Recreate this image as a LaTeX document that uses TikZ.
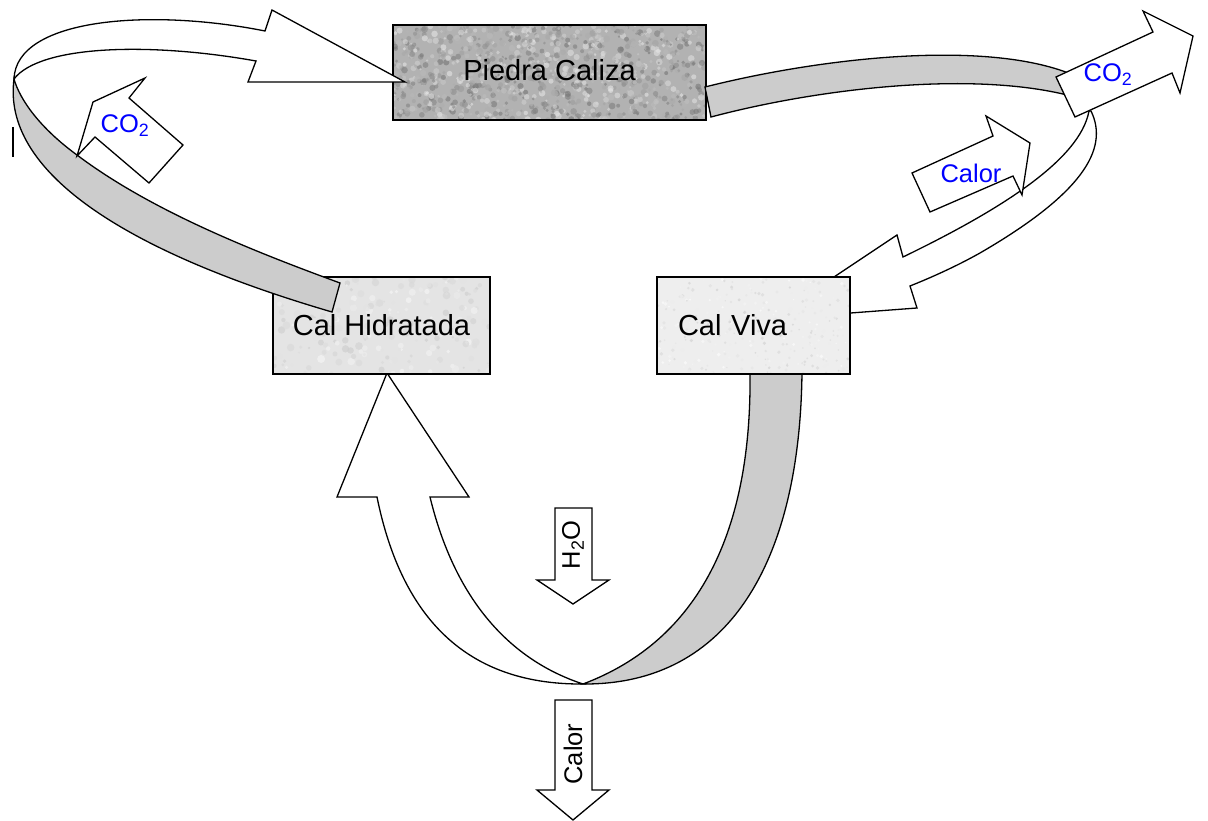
\documentclass[tikz,border=0pt]{standalone}
\usepackage{fontspec}
\setmainfont{Liberation Sans}
\definecolor{bandgray}{RGB}{204,204,204}
\definecolor{lblue}{RGB}{0,0,255}
\definecolor{piedrafill}{RGB}{178,178,178}
\definecolor{hidrfill}{RGB}{228,228,228}
\definecolor{vivafill}{RGB}{238,238,238}
\begin{document}
\begin{tikzpicture}[x=1pt,y=-1pt,
  blockarrow/.style={draw=black, line width=1.3pt, line join=miter, fill=white},
  bandshape/.style={draw=black, line width=1.3pt, line join=miter, fill=bandgray},
  stonebox/.style={draw=black, line width=1.6pt, rectangle, inner sep=0pt, font=\fontsize{29}{34}\selectfont},
  lbl/.style={font=\fontsize{25.5}{30}\selectfont, text=lblue, inner sep=0pt},
  vlbl/.style={font=\fontsize{25.5}{30}\selectfont, inner sep=0pt, rotate=90}]
\useasboundingbox (0,0) rectangle (1208,821);
\pgfmathsetseed{7}

% bottom white curved arrow (to Cal Hidratada)
\draw[blockarrow] (387,373) -- (469,497) -- (430,497)
  .. controls (455,600) and (510,660) .. (583,684)
  .. controls (460,685) and (400,610) .. (377,497) -- (337,497) -- cycle;
% grey band from Cal Viva
\draw[bandshape] (750,372) .. controls (752,530) and (700,640) .. (583,684)
  .. controls (730,685) and (800,560) .. (802,372) -- cycle;
% white curved arrow towards Cal Viva
\draw[blockarrow] (1089,111) .. controls (1080,160) and (1000,210) .. (903,257)
  -- (897,235) -- (771,319) -- (917,308) -- (910,286)
  .. controls (930,278) and (955,267) .. (980,253)
  .. controls (1080,195) and (1110,150) .. (1091,111) -- cycle;

% textures of the boxes
\begin{scope}
  \clip (393,25) rectangle (706,120);
  \fill[piedrafill] (393,25) rectangle (706,120);
  \foreach \i in {1,...,1100}{
    \pgfmathsetmacro\px{393+313*rnd}
    \pgfmathsetmacro\py{25+95*rnd}
    \pgfmathsetmacro\pr{1.2+2.2*rnd}
    \pgfmathtruncatemacro\pg{10+45*rnd}
    \fill[black!\pg, opacity=0.6] (\px,\py) circle[radius=\pr pt];
  }
\end{scope}
\begin{scope}
  \clip (273,277) rectangle (490,374);
  \fill[hidrfill] (273,277) rectangle (490,374);
  \foreach \i in {1,...,250}{
    \pgfmathsetmacro\px{273+217*rnd}
    \pgfmathsetmacro\py{277+97*rnd}
    \pgfmathsetmacro\pr{1+3*rnd}
    \pgfmathtruncatemacro\pg{4+16*rnd}
    \fill[black!\pg, opacity=0.7] (\px,\py) circle[radius=\pr pt];
  }
\end{scope}
\begin{scope}
  \clip (657,277) rectangle (850,374);
  \fill[vivafill] (657,277) rectangle (850,374);
  \foreach \i in {1,...,300}{
    \pgfmathsetmacro\px{657+193*rnd}
    \pgfmathsetmacro\py{277+97*rnd}
    \pgfmathsetmacro\pr{0.6+1.4*rnd}
    \pgfmathtruncatemacro\pg{3+12*rnd}
    \fill[black!\pg] (\px,\py) circle[radius=\pr pt];
  }
\end{scope}

% boxes
\node[stonebox, minimum width=313pt, minimum height=95pt] (piedra) at (549.5,72.5) {\raisebox{5pt}{Piedra Caliza}};
\node[stonebox, minimum width=217pt, minimum height=97pt] (hidr) at (381.5,325.5) {Cal Hidratada};
\node[stonebox, minimum width=193pt, minimum height=97pt, text width=151pt, inner xsep=21pt, align=left] (viva) at (753.5,325.5) {Cal Viva};

% top-left curved arrow (Cal Hidratada -> Piedra Caliza)
\draw[blockarrow] (14,79) .. controls (16,18) and (150,8) .. (265,31)
  -- (272,10) -- (405,82) -- (248,82) -- (256,61)
  .. controls (150,42) and (40,45) .. (14,79) -- cycle;
\draw[bandshape] (14,79) .. controls (2,170) and (120,250) .. (332,312) -- (340,283)
  .. controls (250,250) and (150,210) .. (77,155)
  .. controls (40,128) and (20,100) .. (14,79) -- cycle;
\draw[line width=1.3pt] (13,127) -- (13,157);

% CO2 arrow top-left
\draw[blockarrow] (77,156) -- (93,102) -- (145,78) -- (129,98) -- (183,145) -- (149,183) -- (95,137) -- cycle;
\node[lbl] (co2a) at (125,126) {CO\textsubscript{2}};

% top-right grey band and CO2 arrow
\draw[bandshape] (705,87) .. controls (820,58) and (980,40) .. (1067,72.5)
  -- (1085,100) .. controls (985,68) and (820,88) .. (711,117) -- cycle;
\draw[blockarrow] (1056,77) -- (1153,32) -- (1143,11) -- (1193,36) -- (1180,93) -- (1172,73) -- (1075,117) -- cycle;
\node[lbl] (co2b) at (1108,75) {CO\textsubscript{2}};

% Calor arrow right
\draw[blockarrow] (930,212) -- (912,173) -- (993,136) -- (986,116) -- (1030,143) -- (1022,195) -- (1013,176) -- cycle;
\node[lbl] (calorr) at (971,173) {Calor};

% H2O down arrow
\draw[blockarrow] (555,508) -- (592,508) -- (592,580) -- (609,580) -- (573,604) -- (537,580) -- (555,580) -- cycle;
\node[vlbl] (h2o) at (573,545) {H\textsubscript{2}O};
% Calor down arrow
\draw[blockarrow] (555,700) -- (592,700) -- (592,790) -- (609,790) -- (573,820) -- (537,790) -- (555,790) -- cycle;
\node[vlbl] (calorb) at (573,754) {Calor};
\end{tikzpicture}
\end{document}
